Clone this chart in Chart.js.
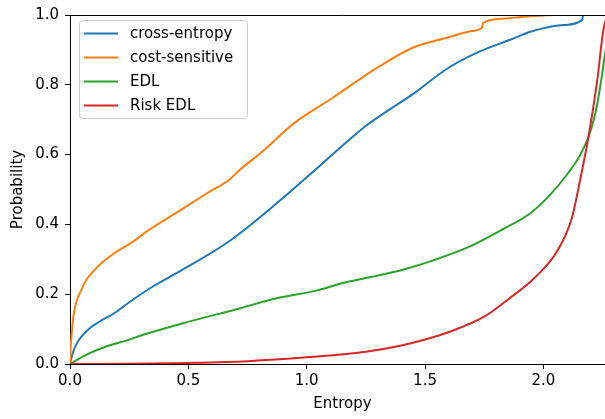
<!DOCTYPE html>
<html>
<head>
<meta charset="utf-8">
<script src="https://cdn.jsdelivr.net/npm/chart.js@4.4.1/dist/chart.umd.min.js"></script>
<style>
  html, body { margin: 0; padding: 0; background: #fff; overflow: hidden; }
  #wrap { width: 616px; height: 419px; }
</style>
</head>
<body>
<div id="wrap"><canvas id="chart" width="616" height="419"></canvas></div>
<script>
// Datos (entropía vs probabilidad acumulada)
const ceX = [0, 0.011, 0.025, 0.047, 0.082, 0.124, 0.195, 0.24, 0.35, 0.465, 0.677, 0.888, 1.057, 1.24, 1.31, 1.45, 1.593, 1.72, 1.86, 1.945, 2.085, 2.164, 2.168, 2.3026];
const ceY = [0, 0.03, 0.054, 0.078, 0.102, 0.121, 0.149, 0.172, 0.222, 0.266, 0.354, 0.469, 0.569, 0.677, 0.711, 0.774, 0.846, 0.892, 0.929, 0.952, 0.971, 0.986, 1.0, 1.0];

const csX = [0, 0.003, 0.0085, 0.014, 0.025, 0.047, 0.068, 0.096, 0.138, 0.195, 0.265, 0.32, 0.465, 0.58, 0.677, 0.705, 0.817, 0.943, 1.11, 1.31, 1.45, 1.593, 1.70, 1.74, 1.745, 1.82, 1.96, 2.05, 2.3026];
const csY = [0, 0.05, 0.097, 0.135, 0.173, 0.211, 0.24, 0.264, 0.292, 0.321, 0.35, 0.378, 0.44, 0.49, 0.53, 0.549, 0.611, 0.688, 0.763, 0.854, 0.907, 0.935, 0.954, 0.963, 0.977, 0.989, 0.997, 1.0, 1.0];

const edlX = [0, 0.068, 0.152, 0.237, 0.32, 0.478, 0.72, 0.86, 1.044, 1.142, 1.27, 1.41, 1.535, 1.68, 1.82, 1.945, 2.03, 2.1, 2.156, 2.199, 2.227, 2.248, 2.262, 2.29, 2.3026];
const edlY = [0, 0.026, 0.05, 0.067, 0.086, 0.117, 0.16, 0.186, 0.211, 0.23, 0.249, 0.271, 0.297, 0.334, 0.383, 0.432, 0.486, 0.543, 0.6, 0.667, 0.743, 0.829, 0.895, 1.0, 1.0];

const riskX = [0, 0.25, 0.5, 0.75, 1.0, 1.25, 1.395, 1.5, 1.607, 1.746, 1.86, 1.96, 2.06, 2.121, 2.156, 2.192, 2.227, 2.255, 2.28, 2.3026];
const riskY = [0, 0.0005, 0.003, 0.008, 0.019, 0.035, 0.052, 0.07, 0.093, 0.134, 0.19, 0.245, 0.325, 0.42, 0.53, 0.657, 0.81, 0.962, 1.0, 1.0];

const seriesNames = ['cross-entropy', 'cost-sensitive', 'EDL', 'Risk EDL'];
const seriesColors = ['#1f77b4', '#ff7f0e', '#2ca02c', '#d62728'];
const xTicks = [0, 0.5, 1.0, 1.5, 2.0];
const yTicks = [0, 0.2, 0.4, 0.6, 0.8, 1.0];

const FONT = 'DejaVu Sans';

function toPoints(xs, ys) {
    return xs.map((x, i) => ({ x: x, y: ys[i] }));
}

const allX = [ceX, csX, edlX, riskX];
const allY = [ceY, csY, edlY, riskY];

const datasets = seriesNames.map((name, i) => ({
    label: name,
    data: toPoints(allX[i], allY[i]),
    borderColor: seriesColors[i],
    backgroundColor: seriesColors[i],
    borderWidth: 2,
    pointRadius: 0,
    cubicInterpolationMode: 'monotone',
    fill: false,
    order: seriesNames.length - i  // como matplotlib: la última serie encima
}));

// Marco superior + leyenda estilo matplotlib
const framePlugin = {
    id: 'frame',
    afterDatasetsDraw(chart) {
        const { ctx, chartArea: a } = chart;
        ctx.save();
        ctx.strokeStyle = '#000';
        ctx.lineWidth = 1;
        ctx.beginPath();
        ctx.moveTo(a.left, a.top + 0.5);
        ctx.lineTo(a.right, a.top + 0.5);
        ctx.moveTo(a.right - 0.5, a.top);
        ctx.lineTo(a.right - 0.5, a.bottom);
        ctx.stroke();

        // leyenda
        const bx = 79.5, by = 20.5, bw = 168, bh = 98, r = 3;
        ctx.beginPath();
        ctx.moveTo(bx + r, by);
        ctx.arcTo(bx + bw, by, bx + bw, by + bh, r);
        ctx.arcTo(bx + bw, by + bh, bx, by + bh, r);
        ctx.arcTo(bx, by + bh, bx, by, r);
        ctx.arcTo(bx, by, bx + bw, by, r);
        ctx.closePath();
        ctx.fillStyle = 'rgba(255,255,255,0.8)';
        ctx.fill();
        ctx.strokeStyle = '#cccccc';
        ctx.lineWidth = 1;
        ctx.stroke();

        ctx.font = '15px "' + FONT + '"';
        ctx.textBaseline = 'middle';
        ctx.textAlign = 'left';
        chart.data.datasets.forEach((ds, i) => {
            const y = 33.5 + i * 24;
            ctx.strokeStyle = ds.borderColor;
            ctx.lineWidth = 2;
            ctx.beginPath();
            ctx.moveTo(84, y);
            ctx.lineTo(118, y);
            ctx.stroke();
            ctx.fillStyle = '#000';
            ctx.fillText(ds.label, 130, y + 1);
        });
        ctx.restore();
    }
};

new Chart(document.getElementById('chart'), {
    type: 'line',
    data: { datasets: datasets },
    options: {
        responsive: false,
        animation: false,
        layout: { padding: { top: 14, right: 1, left: 0, bottom: 0 } },
        plugins: {
            legend: { display: false },
            tooltip: { enabled: false }
        },
        scales: {
            x: {
                type: 'linear',
                min: 0,
                max: 2.3026,
                afterBuildTicks: s => { s.ticks = xTicks.map(v => ({ value: v })); },
                afterFit: s => { s.height = 55; },
                ticks: {
                    color: '#000',
                    font: { family: FONT, size: 15 },
                    padding: 3,
                    maxRotation: 0,
                    callback: v => v.toFixed(1)
                },
                grid: { display: true, drawOnChartArea: false, drawTicks: true, tickLength: 5, color: '#000', tickWidth: 1 },
                border: { display: true, color: '#000', width: 1 },
                title: {
                    display: true,
                    text: 'Entropy',
                    color: '#000',
                    font: { family: FONT, size: 15 },
                    padding: { top: 0, bottom: 6 }
                }
            },
            y: {
                type: 'linear',
                min: 0,
                max: 1,
                afterBuildTicks: s => { s.ticks = yTicks.map(v => ({ value: v })); },
                afterFit: s => { s.width = 70; },
                ticks: {
                    color: '#000',
                    font: { family: FONT, size: 15 },
                    padding: 6,
                    callback: v => v.toFixed(1)
                },
                grid: { display: true, drawOnChartArea: false, drawTicks: true, tickLength: 5, color: '#000', tickWidth: 1 },
                border: { display: true, color: '#000', width: 1 },
                title: {
                    display: true,
                    text: 'Probability',
                    color: '#000',
                    font: { family: FONT, size: 15 },
                    padding: { top: 9, bottom: 0 }
                }
            }
        }
    },
    plugins: [framePlugin]
});
</script>
</body>
</html>
